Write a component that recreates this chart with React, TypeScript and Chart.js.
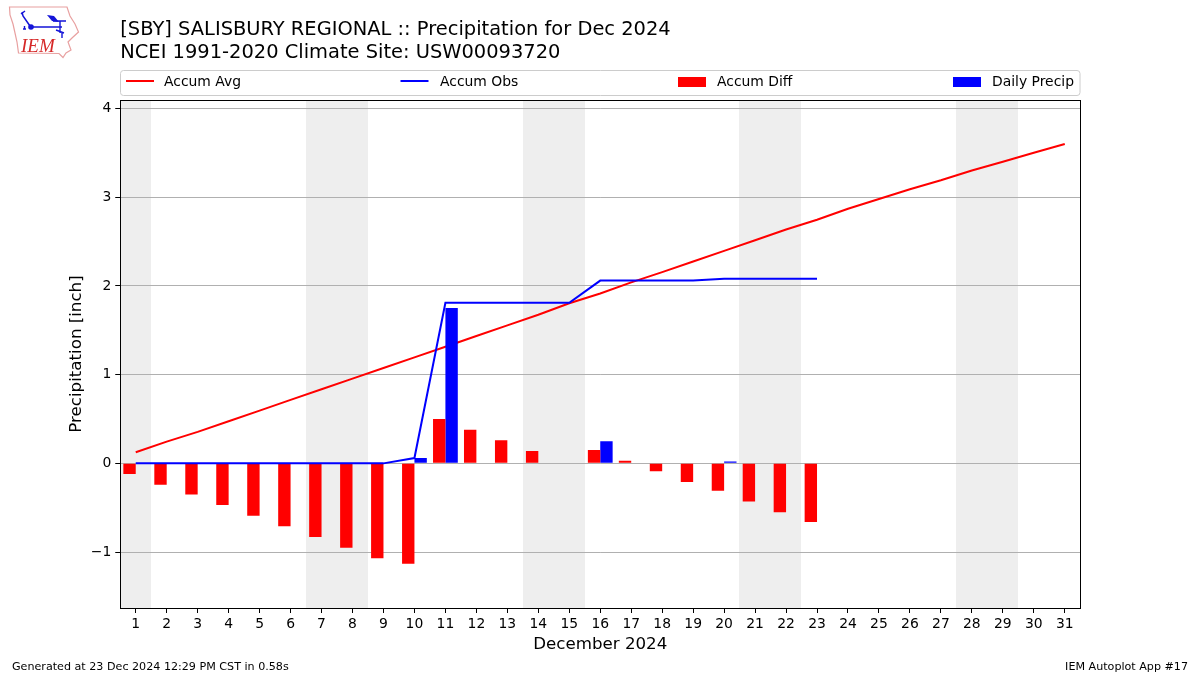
import React, { useEffect, useRef } from "react";
import { Chart, registerables } from "chart.js";

Chart.register(...registerables);

const FONT = "'DejaVu Sans', sans-serif";

const titleLines = [
  "[SBY] SALISBURY REGIONAL :: Precipitation for Dec 2024",
  "NCEI 1991-2020 Climate Site: USW00093720",
];
const footerLeft = "Generated at 23 Dec 2024 12:29 PM CST in 0.58s";
const footerRight = "IEM Autoplot App #17";
const xTitle = "December 2024";
const yTitle = "Precipitation [inch]";

const days = [
  "1", "2", "3", "4", "5", "6", "7", "8", "9", "10", "11", "12", "13", "14", "15", "16",
  "17", "18", "19", "20", "21", "22", "23", "24", "25", "26", "27", "28", "29", "30", "31",
];
const accumAvg = [
  0.125, 0.245, 0.355, 0.475, 0.595, 0.715, 0.835, 0.955, 1.075, 1.195, 1.315, 1.435, 1.555, 1.675,
  1.805, 1.915, 2.04, 2.155, 2.275, 2.395, 2.515, 2.635, 2.745, 2.87, 2.98, 3.09, 3.19, 3.3, 3.4,
  3.5, 3.6,
];
const accumObs = [
  0, 0, 0, 0, 0, 0, 0, 0, 0, 0.06, 1.81, 1.81, 1.81, 1.81, 1.81, 2.06, 2.06, 2.06, 2.06, 2.08,
  2.08, 2.08, 2.08,
];
const accumDiff = [
  -0.12, -0.24, -0.35, -0.47, -0.59, -0.71, -0.83, -0.95, -1.07, -1.13, 0.5, 0.38, 0.26, 0.14,
  0, 0.15, 0.03, -0.09, -0.21, -0.31, -0.43, -0.55, -0.66,
];
const dailyPrecip = [
  0, 0, 0, 0, 0, 0, 0, 0, 0, 0.06, 1.75, 0, 0, 0, 0, 0.25, 0, 0, 0, 0.02, 0, 0, 0,
];
const weekendDays = ["1", "7", "8", "14", "15", "21", "22", "28", "29"];
const yTicks = [-1, 0, 1, 2, 3, 4];
const yMin = -1.63;
const yMax = 4.095;

const seriesLabels = ["Accum Avg", "Accum Obs", "Accum Diff", "Daily Precip"];
const legendSlots = [
  { handle: 126, text: 164, kind: "line", color: "#ff0000" },
  { handle: 400.5, text: 440, kind: "line", color: "#0000ff" },
  { handle: 678, text: 717, kind: "bar", color: "#ff0000" },
  { handle: 953, text: 992, kind: "bar", color: "#0000ff" },
];

const shadePlugin = {
  id: "shade",
  beforeDraw(chart: any) {
    const { ctx, chartArea, scales } = chart;
    const x = scales.x;
    const half = (x.getPixelForValue(1) - x.getPixelForValue(0)) / 2;
    ctx.save();
    ctx.fillStyle = "#eeeeee";
    weekendDays.forEach((d) => {
      const px = x.getPixelForValue(days.indexOf(d)) - 0.25;
      const l = Math.round(px - half);
      const r = Math.round(px + half);
      ctx.fillRect(l, chartArea.top, r - l, chartArea.bottom - chartArea.top);
    });
    ctx.restore();
  },
};

const framePlugin = {
  id: "frame",
  afterDraw(chart: any) {
    const { ctx } = chart;
    ctx.save();
    ctx.strokeStyle = "#000";
    ctx.lineWidth = 1;
    ctx.strokeRect(120.5, 100.5, 960, 508);

    // legend frame
    ctx.strokeStyle = "#cccccc";
    ctx.beginPath();
    ctx.roundRect(120.5, 70.5, 959.5, 25, 3);
    ctx.stroke();
    ctx.font = `13.9px ${FONT}`;
    ctx.textBaseline = "middle";
    ctx.textAlign = "left";
    legendSlots.forEach((s, i) => {
      ctx.fillStyle = s.color;
      ctx.strokeStyle = s.color;
      if (s.kind === "line") {
        ctx.lineWidth = 2;
        ctx.beginPath();
        ctx.moveTo(s.handle, 81);
        ctx.lineTo(s.handle + 28, 81);
        ctx.stroke();
      } else {
        ctx.fillRect(s.handle, 77, 28, 10);
      }
      ctx.fillStyle = "#000";
      ctx.fillText(seriesLabels[i], s.text, 82);
    });

    // footer
    ctx.font = `11.13px ${FONT}`;
    ctx.fillStyle = "#000";
    ctx.fillText(footerLeft, 12, 667);
    ctx.textAlign = "right";
    ctx.fillText(footerRight, 1188, 667);
    ctx.restore();
  },
};

function IemLogo() {
  return (
    <svg
      width="90"
      height="62"
      viewBox="0 0 90 62"
      style={{ position: "absolute", left: 0, top: 0 }}
    >
      <path
        d="M9.5 7 L67 7 L70 16 L75 24 L78.5 32 L72 38 L68 42 L71 50 L66 53 L63 57.5 L59 53.5 L18.5 53 L17 42 L15 33 L13 24 L10 15 Z"
        fill="#fff"
        stroke="#e8a0a0"
        strokeWidth="1.2"
      />
      <path d="M22 12 L23 16 L30 26 M21 14 L25 11 M31 27 L62 27" stroke="#1414d8" strokeWidth="1.5" fill="none" />
      <circle cx="31" cy="27" r="2.8" fill="#1414d8" />
      <path d="M47 15 L54 16 L59 22 L52 21 Z" fill="#1414d8" />
      <path d="M53 21 L66 21 M60 21 L60 33 M56 30 L64 33 M62 33 L62 38" stroke="#1414d8" strokeWidth="1.4" fill="none" />
      <path d="M23 29 L26 29 M24.5 26 L24.5 29" stroke="#1414d8" strokeWidth="1.4" fill="none" />
      <text
        x="21"
        y="52"
        fill="#d62828"
        fontFamily="'Liberation Serif', serif"
        fontStyle="italic"
        fontSize="19"
      >
        IEM
      </text>
    </svg>
  );
}

export default function App() {
  const ref = useRef<HTMLCanvasElement>(null);

  useEffect(() => {
    const chart = new Chart(ref.current as HTMLCanvasElement, {
      type: "bar",
      data: {
        labels: days,
        datasets: [
          {
            type: "line",
            label: seriesLabels[0],
            data: accumAvg,
            borderColor: "#ff0000",
            borderWidth: 2,
            pointRadius: 0,
            tension: 0,
            order: 3,
          },
          {
            type: "line",
            label: seriesLabels[1],
            data: accumObs,
            borderColor: "#0000ff",
            borderWidth: 2,
            pointRadius: 0,
            tension: 0,
            order: 0,
          },
          {
            type: "bar",
            label: seriesLabels[2],
            data: accumDiff,
            backgroundColor: "#ff0000",
            borderWidth: 0,
            categoryPercentage: 0.8,
            barPercentage: 1,
            order: 1,
          },
          {
            type: "bar",
            label: seriesLabels[3],
            data: dailyPrecip,
            backgroundColor: "#0000ff",
            borderWidth: 0,
            categoryPercentage: 0.8,
            barPercentage: 1,
            order: 2,
          },
        ],
      } as any,
      options: {
        responsive: false,
        animation: false,
        maintainAspectRatio: false,
        layout: { padding: { left: 66.25, right: 119.75, top: 0, bottom: 20 } },
        plugins: {
          legend: { display: false },
          tooltip: { enabled: false },
          title: {
            display: true,
            text: titleLines,
            align: "start",
            fullSize: false,
            color: "#000",
            font: { family: FONT, size: 19.44, weight: "normal", lineHeight: 1.15 },
            padding: { top: 19, bottom: 36.3 },
          },
        },
        scales: {
          x: {
            type: "category",
            offset: true,
            afterFit(s: any) {
              s.height = 47;
            },
            grid: {
              drawOnChartArea: false,
              drawTicks: true,
              offset: false,
              tickLength: 5,
              tickColor: "#000",
              tickWidth: 1,
            },
            border: { display: false },
            ticks: {
              color: "#000",
              autoSkip: false,
              maxRotation: 0,
              padding: 3,
              font: { family: FONT, size: 13.9 },
            },
            title: {
              display: true,
              text: xTitle,
              color: "#000",
              font: { family: FONT, size: 16.67 },
              padding: { top: 3, bottom: 0 },
            },
          },
          y: {
            type: "linear",
            min: yMin,
            max: yMax,
            afterFit(s: any) {
              s.width = 54;
            },
            afterBuildTicks(s: any) {
              s.ticks = yTicks.map((value) => ({ value }));
            },
            grid: {
              color: "#b0b0b0",
              lineWidth: 1,
              drawTicks: true,
              tickLength: 5,
              tickColor: "#000",
            },
            border: { display: false },
            ticks: {
              color: "#000",
              padding: 4,
              font: { family: FONT, size: 13.9 },
              callback: (v: any) => String(v).replace("-", "\u2212"),
            },
            title: {
              display: true,
              text: yTitle,
              color: "#000",
              font: { family: FONT, size: 16.67 },
              padding: { top: 0, bottom: 0 },
            },
          },
        },
      } as any,
      plugins: [shadePlugin, framePlugin],
    });
    return () => chart.destroy();
  }, []);

  return (
    <div style={{ position: "absolute", left: 0, top: 0, width: 1200, height: 675, background: "#fff" }}>
      <canvas ref={ref} width={1200} height={675} style={{ display: "block" }} />
      <IemLogo />
    </div>
  );
}
